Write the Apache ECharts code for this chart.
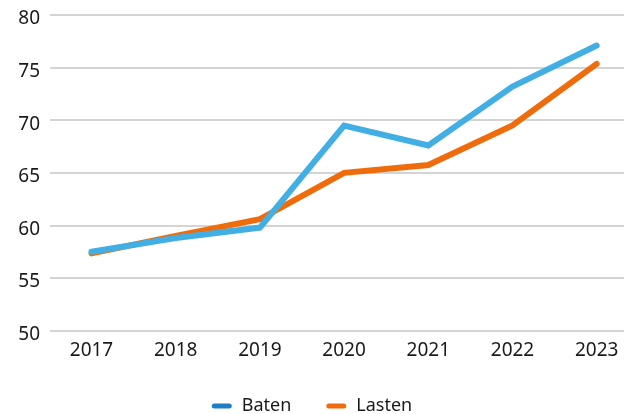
<!DOCTYPE html>
<html>
<head>
<meta charset="utf-8">
<script src="https://cdn.jsdelivr.net/npm/echarts@6/dist/echarts.min.js"></script>
<style>html,body{margin:0;padding:0;background:#fff;}#c{width:624px;height:414px;}</style>
</head>
<body>
<div id="c"></div>
<script>
const years = ['2017','2018','2019','2020','2021','2022','2023'];
const baten = [57.5, 58.8, 59.8, 69.5, 67.6, 73.2, 77.1];
const lasten = [57.35, 59.0, 60.6, 65.0, 65.75, 69.5, 75.35];
const yTicks = [50, 55, 60, 65, 70, 75, 80];

const font = 'Noto Sans';
const chart = echarts.init(document.getElementById('c'), null, {renderer: 'canvas'});
const legendIcon = 'path://M2.5,0 L17.5,0 A2.5,2.5 0 0 1 17.5,5 L2.5,5 A2.5,2.5 0 0 1 2.5,0 Z';
const yMin = yTicks[0], yMax = yTicks[yTicks.length - 1];
chart.setOption({
  animation: false,
  backgroundColor: '#ffffff',
  grid: [
    {left: 50, top: 15, right: 0, height: 315.7, containLabel: false},
    {left: 91.5, top: 15, width: 505.2, height: 315.7, containLabel: false}
  ],
  xAxis: [
    {type: 'value', gridIndex: 0, show: false, min: 0, max: 1},
    {
      type: 'category', gridIndex: 1,
      data: years,
      boundaryGap: false,
      axisLine: {show: false},
      axisTick: {show: false},
      splitLine: {show: false},
      axisLabel: {color: '#1a1a1a', fontSize: 19, fontFamily: font, margin: 10}
    }
  ],
  yAxis: [
    {
      type: 'value', gridIndex: 0,
      min: yMin, max: yMax, interval: 5,
      axisLine: {show: false},
      axisTick: {show: false},
      axisLabel: {
        margin: 10,
        formatter: '{a|{value}}',
        rich: {a: {color: '#1a1a1a', fontSize: 19, fontFamily: font, padding: [8, 0, 0, 0]}}
      },
      splitLine: {lineStyle: {color: '#c6c6c6', width: 1.5}}
    },
    {
      type: 'value', gridIndex: 1,
      min: yMin, max: yMax, interval: 5,
      show: false, splitLine: {show: false}
    }
  ],
  legend: {
    bottom: -6,
    left: 'center',
    itemWidth: 20,
    itemHeight: 5,
    itemGap: 35,
    icon: legendIcon,
    textStyle: {color: '#1a1a1a', fontSize: 18, fontFamily: font, padding: [0, 0, 0, 5]},
    data: [
      {name: 'Baten', itemStyle: {color: '#1e7ec6'}},
      {name: 'Lasten', itemStyle: {color: '#ef6c0c'}}
    ]
  },
  series: [
    {name: 'Baten', type: 'line', xAxisIndex: 1, yAxisIndex: 1, data: baten, showSymbol: false, symbol: 'none',
     itemStyle: {color: '#41afe3'},
     lineStyle: {color: '#41afe3', width: 6, cap: 'round', join: 'miter'}, z: 3},
    {name: 'Lasten', type: 'line', xAxisIndex: 1, yAxisIndex: 1, data: lasten, showSymbol: false, symbol: 'none',
     itemStyle: {color: '#ef6c0c'},
     lineStyle: {color: '#ef6c0c', width: 6, cap: 'round', join: 'miter'}, z: 2}
  ]
});
</script>
</body>
</html>
